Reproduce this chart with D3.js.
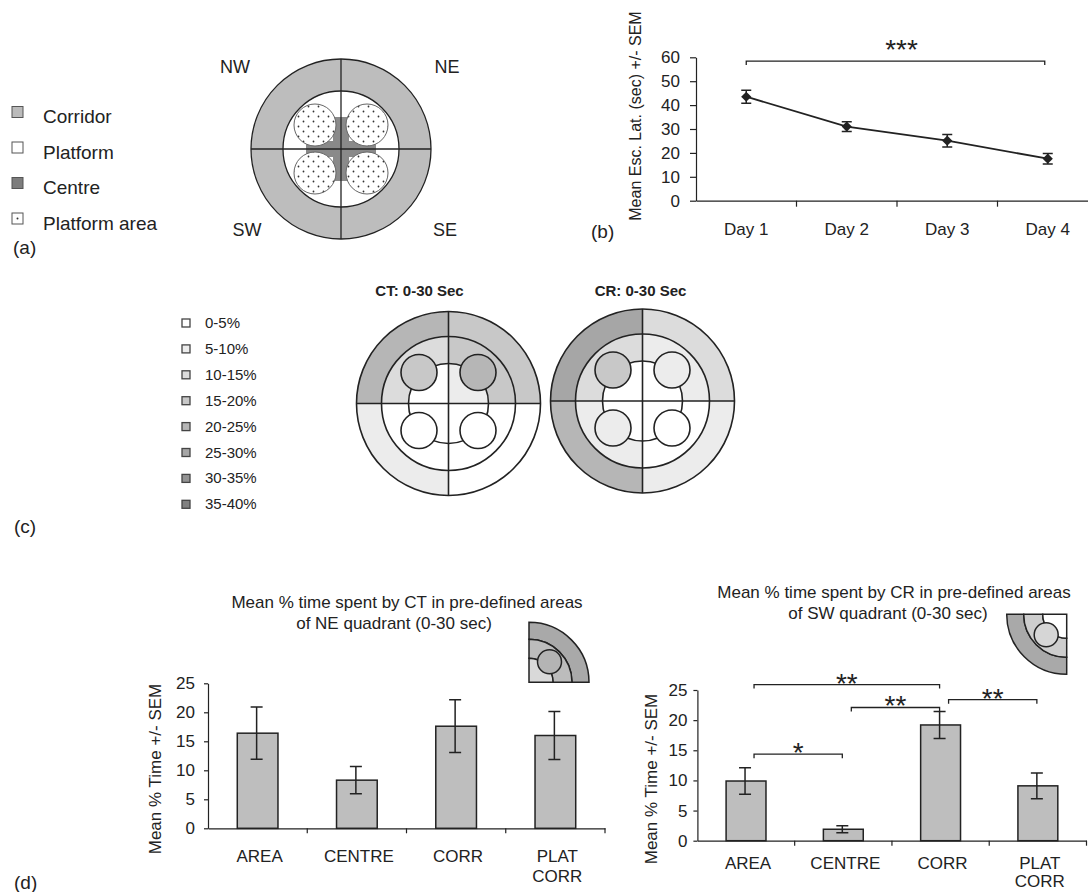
<!DOCTYPE html>
<html>
<head>
<meta charset="utf-8">
<script src="https://cdnjs.cloudflare.com/ajax/libs/d3/7.8.5/d3.min.js"></script>
<style>
  body { margin: 0; background: #fff; }
  svg { display: block; }
</style>
</head>
<body>
<svg id="fig" width="1088" height="892"></svg>
<script>
// ---------- data ----------
// (a) arena legend
const arenaLegend = ["Corridor", "Platform", "Centre", "Platform area"]
const compass = ["NW", "NE", "SW", "SE"]

// (b) escape latency over days
const days = ["Day 1", "Day 2", "Day 3", "Day 4"]
const escLatency = [43.5, 31.0, 25.1, 17.6]
const escLatencySem = [2.7, 2.0, 2.6, 2.2]
const latencyTicks = [0, 10, 20, 30, 40, 50, 60]
const latencySig = ["Day 1", "Day 4", 58.4, "***"]

// (c) occupancy bins, quadrants in order NW, NE, SW, SE
const zoneBins = ["0-5%", "5-10%", "10-15%", "15-20%", "20-25%", "25-30%", "30-35%", "35-40%"]
const ctCorridor = ["20-25%", "15-20%", "5-10%", "0-5%"]
const ctRing = ["10-15%", "15-20%", "0-5%", "0-5%"]
const ctPlatform = ["15-20%", "20-25%", "0-5%", "0-5%"]
const ctCentre = ["0-5%", "5-10%", "0-5%", "0-5%"]
const crCorridor = ["25-30%", "10-15%", "20-25%", "5-10%"]
const crRing = ["10-15%", "5-10%", "5-10%", "0-5%"]
const crPlatform = ["15-20%", "5-10%", "5-10%", "0-5%"]
const crCentre = ["0-5%", "0-5%", "0-5%", "0-5%"]

// (d) % time in areas of one quadrant
const areaCats = ["AREA", "CENTRE", "CORR", "PLAT CORR"]
const timeTicks = [0, 5, 10, 15, 20, 25]
const ctNeMean = [16.4, 8.3, 17.6, 16.0]
const ctNeSem = [4.5, 2.35, 4.55, 4.15]
const crSwMean = [9.9, 1.9, 19.2, 9.1]
const crSwSem = [2.2, 0.6, 2.25, 2.15]
const crSigFrom = ["AREA", "CENTRE", "CORR", "AREA"]
const crSigTo = ["CORR", "CORR", "PLAT CORR", "CENTRE"]
const crSigY = [25.9, 22.1, 23.4, 14.35]
const crSigMark = ["**", "**", "**", "*"]

// ---------- styles ----------
const ink = "#222"
const font = '"Liberation Sans", Arial, Helvetica, sans-serif'
const binGreys = ["#ffffff", "#ececec", "#dcdcdc", "#c8c8c8", "#b6b6b6", "#a6a6a6", "#939393", "#808080"]
const binColour = d3.scaleOrdinal().domain(zoneBins).range(binGreys)

const svg = d3.select("#fig")
  .attr("font-family", font)
svg.append("rect").attr("width", 1088).attr("height", 892).attr("fill", "#fff")

function txt(g, x, y, s, size, anchor, weight) {
  return g.append("text")
    .attr("x", x).attr("y", y)
    .attr("fill", ink)
    .attr("font-size", size)
    .attr("text-anchor", anchor || "start")
    .attr("font-weight", weight || "normal")
    .text(s)
}

function styleAxis(g, size) {
  g.attr("font-family", font).attr("font-size", size)
  g.selectAll(".domain").attr("stroke", ink).attr("stroke-width", 1.2)
  g.selectAll(".tick line").attr("stroke", ink).attr("stroke-width", 1.2)
  g.selectAll(".tick text").attr("fill", ink)
}

// stars sit with their centre `lift` px above the bracket
function stars(g, x, y, s, lift) {
  txt(g, x, y - lift + 16, s, 28, "middle")
}

function bracket(g, x1, x2, y) {
  g.append("path")
    .attr("d", `M${x1},${y + 4}V${y}H${x2}V${y + 4}`)
    .attr("fill", "none").attr("stroke", ink).attr("stroke-width", 1.3)
}

const defs = svg.append("defs")
const dots = defs.append("pattern").attr("id", "dots")
  .attr("patternUnits", "userSpaceOnUse").attr("width", 10).attr("height", 10)
dots.append("rect").attr("width", 10).attr("height", 10).attr("fill", "#fff")
dots.selectAll("circle").data([[2.5, 2.5], [7.5, 7.5]]).join("circle")
  .attr("cx", d => d[0]).attr("cy", d => d[1]).attr("r", 0.9).attr("fill", "#333")

// ---------- (a) arena layout ----------
const pa = svg.append("g")
const legendFill = ["#bbbbbb", "#ffffff", "#7d7d7d", "#ffffff"]
arenaLegend.forEach((name, i) => {
  const cy = 112 + i * 35.5
  pa.append("rect").attr("x", 12).attr("y", cy - 5.5).attr("width", 11).attr("height", 11)
    .attr("fill", legendFill[i]).attr("stroke", "#555").attr("stroke-width", 1)
  if (name === "Platform area") {
    pa.append("circle").attr("cx", 17.5).attr("cy", cy).attr("r", 1).attr("fill", "#333")
  }
  txt(pa, 43, cy + 11, name, 19)
})
txt(pa, 13, 254, "(a)", 19)

const arena = pa.append("g").attr("transform", "translate(341,149)")
arena.append("circle").attr("r", 90).attr("fill", "#bdbdbd").attr("stroke", ink).attr("stroke-width", 1.3)
arena.append("circle").attr("r", 58).attr("fill", "#fff").attr("stroke", ink).attr("stroke-width", 1.3)
arena.append("rect").attr("x", -35).attr("y", -8).attr("width", 70).attr("height", 16).attr("fill", "#8a8a8a")
arena.append("rect").attr("x", -8).attr("y", -32).attr("width", 16).attr("height", 64).attr("fill", "#8a8a8a")
arena.append("line").attr("x1", -90).attr("x2", 90).attr("stroke", ink).attr("stroke-width", 1.3)
arena.append("line").attr("y1", -90).attr("y2", 90).attr("stroke", ink).attr("stroke-width", 1.3)
const aSign = [[-1, -1], [1, -1], [-1, 1], [1, 1]]
arena.selectAll("circle.plat").data(aSign).join("circle").attr("class", "plat")
  .attr("cx", d => d[0] * 26).attr("cy", d => d[1] * 24).attr("r", 21)
  .attr("fill", "url(#dots)").attr("stroke", "#666").attr("stroke-width", 1)

const compassPos = [[-106, -76], [106, -76], [-94, 87], [104, 87]]
compass.forEach((c, i) => {
  txt(arena, compassPos[i][0], compassPos[i][1], c, 18, "middle")
})

// ---------- (b) escape latency ----------
const pb = svg.append("g")
const bx = d3.scaleBand().domain(days).range([696, 1098])
const by = d3.scaleLinear().domain([0, 60]).range([200.7, 57.3])
const bc = d => bx(d) + bx.bandwidth() / 2

pb.append("g").attr("transform", "translate(696,0)")
  .call(d3.axisLeft(by).tickValues(latencyTicks).tickSize(6).tickPadding(10).tickSizeOuter(0))
  .call(g => styleAxis(g, 17))
pb.append("g").attr("transform", "translate(0,200.7)")
  .call(d3.axisBottom(bx).tickSize(0).tickPadding(22).tickSizeOuter(0))
  .call(g => styleAxis(g, 17))
pb.selectAll("line.bnd").data(days.slice(1)).join("line").attr("class", "bnd")
  .attr("x1", d => bx(d)).attr("x2", d => bx(d))
  .attr("y1", 200.7).attr("y2", 206.7).attr("stroke", ink).attr("stroke-width", 1.2)

pb.append("path").datum(days)
  .attr("d", d3.line().x(d => bc(d)).y((d, i) => by(escLatency[i])))
  .attr("fill", "none").attr("stroke", ink).attr("stroke-width", 1.8)
days.forEach((d, i) => {
  const x = bc(d), hi = by(escLatency[i] + escLatencySem[i]), lo = by(escLatency[i] - escLatencySem[i])
  pb.append("path").attr("d", `M${x - 5},${hi}H${x + 5}M${x},${hi}V${lo}M${x - 5},${lo}H${x + 5}`)
    .attr("fill", "none").attr("stroke", ink).attr("stroke-width", 1.5)
})
pb.selectAll("path.mk").data(days).join("path").attr("class", "mk")
  .attr("d", d3.symbol(d3.symbolSquare, 52))
  .attr("transform", (d, i) => `translate(${bc(d)},${by(escLatency[i])}) rotate(45)`)
  .attr("fill", ink)

const bsX1 = bc(latencySig[0]), bsX2 = bc(latencySig[1]) - 3, bsY = by(latencySig[2])
bracket(pb, bsX1, bsX2, bsY)
stars(pb, (bsX1 + bsX2) / 2 + 6, bsY, latencySig[3], 18)

txt(pb, 0, 0, "Mean Esc. Lat. (sec) +/- SEM", 16, "middle")
  .attr("transform", "translate(641,116) rotate(-90)")
txt(pb, 591, 238, "(b)", 19)

// ---------- (c) occupancy maps ----------
const pc = svg.append("g")
zoneBins.forEach((b, i) => {
  const cy = 323 + i * 25.9
  pc.append("rect").attr("x", 182).attr("y", cy - 4).attr("width", 8).attr("height", 8)
    .attr("fill", binColour(b)).attr("stroke", "#444").attr("stroke-width", 1.3)
  txt(pc, 205, cy + 5, b, 15)
})
txt(pc, 14, 533, "(c)", 19)

const quadAngles = [[-Math.PI / 2, 0], [0, Math.PI / 2], [Math.PI, 1.5 * Math.PI], [Math.PI / 2, Math.PI]]
const quadSign = [[-1, -1], [1, -1], [-1, 1], [1, 1]]
const arc = d3.arc()

function drawArena(cx, cy, title, titleX, corridor, ring, platform, centre) {
  const g = pc.append("g").attr("transform", `translate(${cx},${cy})`)
  const rOut = 92, rMid = 67, rCen = 40
  compass.forEach((q, i) => {
    const [a0, a1] = quadAngles[i]
    g.append("path").attr("d", arc({innerRadius: rMid, outerRadius: rOut, startAngle: a0, endAngle: a1}))
      .attr("fill", binColour(corridor[i]))
    g.append("path").attr("d", arc({innerRadius: rCen, outerRadius: rMid, startAngle: a0, endAngle: a1}))
      .attr("fill", binColour(ring[i]))
    g.append("path").attr("d", arc({innerRadius: 0, outerRadius: rCen, startAngle: a0, endAngle: a1}))
      .attr("fill", binColour(centre[i]))
  })
  ;[rOut, rMid, rCen].forEach(r => {
    g.append("circle").attr("r", r).attr("fill", "none").attr("stroke", ink).attr("stroke-width", 1.6)
  })
  g.append("line").attr("x1", -rOut).attr("x2", rOut).attr("stroke", ink).attr("stroke-width", 1.6)
  g.append("line").attr("y1", -rOut).attr("y2", rOut).attr("stroke", ink).attr("stroke-width", 1.6)
  quadSign.forEach((s, i) => {
    g.append("circle").attr("cx", s[0] * 29.5).attr("cy", s[1] < 0 ? -31 : 27).attr("r", 18)
      .attr("fill", binColour(platform[i])).attr("stroke", ink).attr("stroke-width", 1.6)
  })
  txt(pc, titleX, 295.5, title, 15, "middle", "bold")
}
drawArena(448.5, 403.5, "CT: 0-30 Sec", 419.5, ctCorridor, ctRing, ctPlatform, ctCentre)
drawArena(642.5, 401, "CR: 0-30 Sec", 640.5, crCorridor, crRing, crPlatform, crCentre)

// ---------- (d) bar charts ----------
const pd = svg.append("g")
txt(pd, 14, 889, "(d)", 19)

function quadIcon(g, cx, cy, a0, a1, fills) {
  const icon = g.append("g").attr("transform", `translate(${cx},${cy})`)
  const rings = [[43, 60], [24, 43], [0, 24]]
  rings.forEach((r, i) => {
    icon.append("path")
      .attr("d", arc({innerRadius: r[0], outerRadius: r[1], startAngle: a0, endAngle: a1}))
      .attr("fill", fills[i]).attr("stroke", ink).attr("stroke-width", 1.5)
  })
  const mid = (a0 + a1) / 2
  icon.append("circle").attr("cx", Math.sin(mid) * 29).attr("cy", -Math.cos(mid) * 29).attr("r", 12)
    .attr("fill", fills[3]).attr("stroke", ink).attr("stroke-width", 1.5)
}

function barChart(o) {
  const g = pd.append("g")
  const x = d3.scaleBand().domain(areaCats).range(o.xr)
  const y = d3.scaleLinear().domain([0, 25]).range(o.yr)
  const cx = d => x(d) + x.bandwidth() / 2
  const bw = x.bandwidth() * 0.41

  g.append("g").attr("transform", `translate(${o.xr[0]},0)`)
    .call(d3.axisLeft(y).tickValues(timeTicks).tickSize(4).tickPadding(o.tickPad).tickSizeOuter(0))
    .call(a => styleAxis(a, 17))
  g.append("g").attr("transform", `translate(0,${o.yr[0]})`)
    .call(d3.axisBottom(x).tickValues([]).tickSizeOuter(0))
    .call(a => styleAxis(a, 17))
  g.selectAll("line.bnd").data(areaCats.slice(1).concat(["end"])).join("line").attr("class", "bnd")
    .attr("x1", d => d === "end" ? o.xr[1] : x(d)).attr("x2", d => d === "end" ? o.xr[1] : x(d))
    .attr("y1", o.yr[0]).attr("y2", o.yr[0] + 5).attr("stroke", ink).attr("stroke-width", 1.2)

  g.selectAll("rect.bar").data(areaCats).join("rect").attr("class", "bar")
    .attr("x", d => cx(d) - bw / 2).attr("width", bw)
    .attr("y", (d, i) => y(o.mean[i])).attr("height", (d, i) => y(0) - y(o.mean[i]))
    .attr("fill", "#bebebe").attr("stroke", ink).attr("stroke-width", 1.5)
  areaCats.forEach((d, i) => {
    const xc = cx(d) - 1, hi = y(o.mean[i] + o.sem[i]), lo = y(o.mean[i] - o.sem[i])
    g.append("path").attr("d", `M${xc - 6},${hi}H${xc + 6}M${xc},${hi}V${lo}M${xc - 6},${lo}H${xc + 6}`)
      .attr("fill", "none").attr("stroke", ink).attr("stroke-width", 1.5)
  })
  areaCats.forEach(d => {
    d.split(" ").forEach((w, j) => {
      txt(g, cx(d) + 2, o.yr[0] + o.labDy + j * o.lineGap, w, 17, "middle")
    })
  })

  o.title.forEach((t, j) => txt(g, o.titleX[j], o.titleY + j * 21, t, 17, "middle"))
  txt(g, 0, 0, "Mean % Time +/- SEM", 17, "middle")
    .attr("transform", `translate(${o.ylab[0]},${o.ylab[1]}) rotate(-90)`)

  if (o.sigFrom) {
    o.sigFrom.forEach((f, i) => {
      const x1 = cx(f) + 8, x2 = cx(o.sigTo[i]) - 1, yy = y(o.sigY[i])
      bracket(g, x1, x2, yy)
      stars(g, (x1 + x2) / 2, yy, o.sigMark[i], 8)
    })
  }
  return g
}

const gl = barChart({
  xr: [208, 605], yr: [828.3, 683.3], tickPad: 9, labDy: 34, lineGap: 20,
  mean: ctNeMean, sem: ctNeSem,
  title: ["Mean % time spent by CT in pre-defined areas", "of NE quadrant (0-30 sec)"],
  titleX: [407, 394], titleY: 608, ylab: [161, 769]
})
quadIcon(gl, 529, 682.3, 0, Math.PI / 2, ["#a9a9a9", "#bcbcbc", "#d9d9d9", "#b4b4b4"])

const gr = barChart({
  xr: [697.4, 1086.5], yr: [840.7, 690], tickPad: 6, labDy: 28, lineGap: 18,
  mean: crSwMean, sem: crSwSem,
  title: ["Mean % time spent by CR in pre-defined areas", "of SW quadrant (0-30 sec)"],
  titleX: [894, 888], titleY: 598, ylab: [657, 779],
  sigFrom: crSigFrom, sigTo: crSigTo, sigY: crSigY, sigMark: crSigMark
})
quadIcon(gr, 1066.7, 614.3, Math.PI, 1.5 * Math.PI, ["#a9a9a9", "#cdcdcd", "#ffffff", "#d6d6d6"])
</script>
</body>
</html>
